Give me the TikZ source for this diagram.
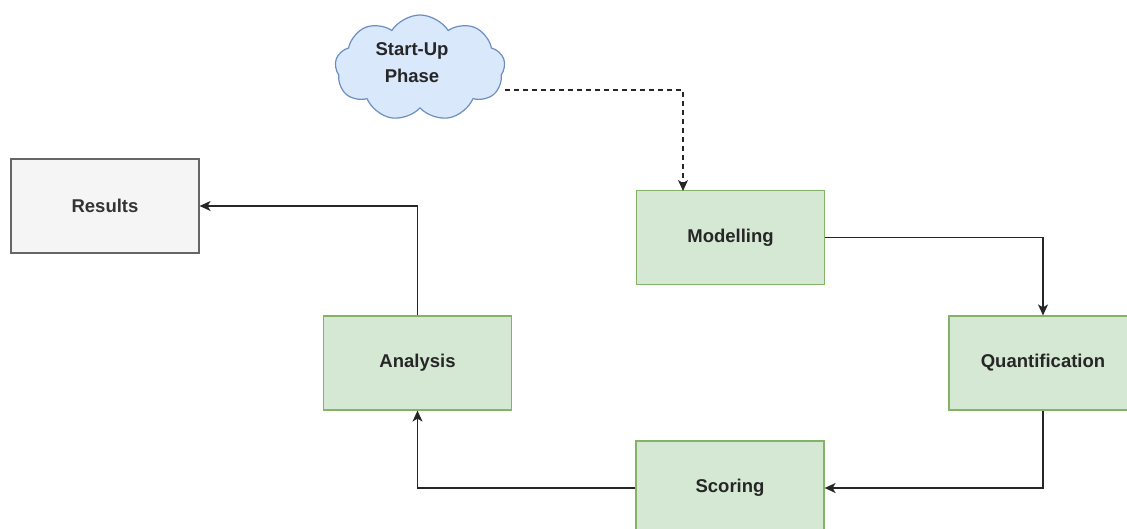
\documentclass[tikz,border=0pt]{standalone}
\usepackage{fontspec}
\setmainfont{Liberation Sans}
\usetikzlibrary{arrows.meta,shapes.symbols}
\definecolor{greenfill}{HTML}{D5E8D4}
\definecolor{greendraw}{HTML}{82B366}
\definecolor{greyfill}{HTML}{F5F5F5}
\definecolor{greydraw}{HTML}{666666}
\definecolor{bluefill}{HTML}{DAE8FC}
\definecolor{bluedraw}{HTML}{6C8EBF}
\definecolor{txt}{HTML}{333333}
\tikzset{
  lbl/.style={font=\bfseries\fontsize{18.5}{27}\selectfont},
  procbox/.style={rectangle, draw=greendraw, fill=greenfill, line width=1.2pt,
    minimum width=188pt, minimum height=94pt, inner sep=0pt, lbl, text=black!85},
  resbox/.style={rectangle, draw=greydraw, fill=greyfill, line width=1.2pt,
    minimum width=188pt, minimum height=94pt, inner sep=0pt, lbl, text=txt},
  conn/.style={draw=black!85, line width=1.3pt, -{Stealth[length=11pt,width=10pt,inset=3pt]}},
}
\begin{document}
\begin{tikzpicture}[x=1pt,y=-1pt]
\useasboundingbox (0,0) rectangle (1127,529);
\node[cloud, cloud puffs=9, cloud puff arc=115, aspect=1.6, draw=bluedraw, fill=bluefill,
  line width=1.2pt, minimum width=170pt, minimum height=106pt, inner sep=0pt] (cloud) at (420,68) {};
\node[lbl, text=black!85, align=center] (cloudtxt) at (412,63) {Start-Up\\Phase};
\node[resbox] (res) at (105,206) {Results};
\node[procbox] (mod) at (730.5,237.5) {Modelling};
\node[procbox] (quant) at (1043,363) {Quantification};
\node[procbox] (score) at (730,488) {Scoring};
\node[procbox] (ana) at (417.5,363) {Analysis};
\coordinate (cstart) at (505,90);
\draw[conn, dash pattern=on 5pt off 4pt] (cstart) -| (683,191);
\draw[conn] (mod.east) -| (quant.north);
\draw[conn] (quant.south) |- (score.east);
\draw[conn] (score.west) -| (ana.south);
\draw[conn] (ana.north) |- (res.east);
\end{tikzpicture}
\end{document}
